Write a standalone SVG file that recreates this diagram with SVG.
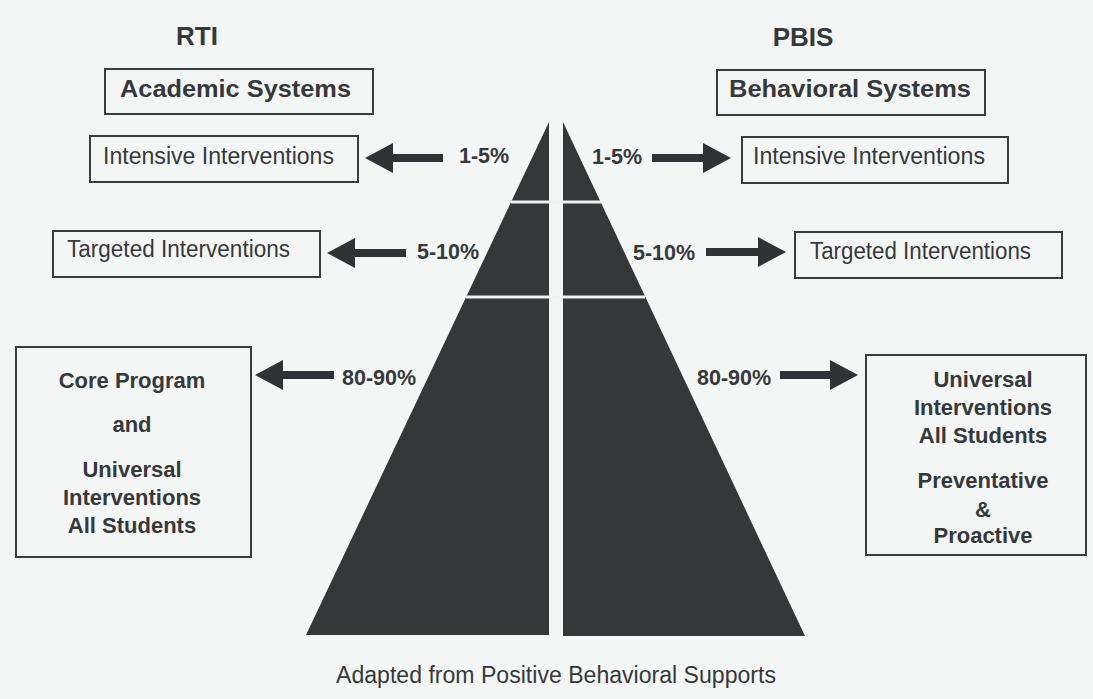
<svg xmlns="http://www.w3.org/2000/svg" width="1093" height="699" viewBox="0 0 1093 699">
  <style>
    text { font-family: "Liberation Sans", Arial, sans-serif; fill: #36393b; }
    .title { font-size: 26px; font-weight: bold; }
    .sys { font-size: 24px; font-weight: bold; }
    .reg { font-size: 23px; }
    .pct { font-size: 21.5px; font-weight: bold; }
    .big { font-size: 22px; font-weight: bold; text-anchor: middle; }
    .box { fill: none; stroke: #3a3d3f; stroke-width: 2; }
    .arrow { stroke: #2f3335; stroke-width: 8; fill: none; marker-end: url(#head); }
    .pyr { fill: #353738; }
    .sep { stroke: #eef2f0; stroke-width: 3; }
  </style>
  <defs>
    <marker id="head" markerUnits="userSpaceOnUse" markerWidth="28" markerHeight="30" viewBox="0 0 28 30" refX="6" refY="15" orient="auto">
      <path d="M0,0 L28,15 L0,30 Z" fill="#2f3335"/>
    </marker>
  </defs>
  <rect width="1093" height="699" fill="#f4f6f5"/>

  <g id="pyramid">
    <polygon class="pyr" points="549,122 549,635 306,635"/>
    <polygon class="pyr" points="563,122 563,636 805,636"/>
    <line class="sep" x1="511" y1="202" x2="601" y2="202"/>
    <line class="sep" x1="466" y1="297" x2="645" y2="297"/>
  </g>

  <g id="rti-title"><text class="title" x="197" y="45" text-anchor="middle">RTI</text></g>
  <g id="pbis-title"><text class="title" x="803" y="46" text-anchor="middle">PBIS</text></g>

  <g id="academic">
    <rect class="box" x="105" y="69" width="268" height="45"/>
    <text class="sys" x="120" y="97" textLength="231" lengthAdjust="spacingAndGlyphs">Academic Systems</text>
  </g>
  <g id="behavioral">
    <rect class="box" x="717" y="70" width="268" height="45"/>
    <text class="sys" x="729" y="97" textLength="242" lengthAdjust="spacingAndGlyphs">Behavioral Systems</text>
  </g>

  <g id="intensive-left">
    <rect class="box" x="90" y="136" width="268" height="46"/>
    <text class="reg" x="103" y="164" textLength="231" lengthAdjust="spacingAndGlyphs">Intensive Interventions</text>
  </g>
  <g id="intensive-right">
    <rect class="box" x="742" y="137" width="266" height="46"/>
    <text class="reg" x="753" y="164" textLength="232" lengthAdjust="spacingAndGlyphs">Intensive Interventions</text>
  </g>

  <g id="targeted-left">
    <rect class="box" x="53" y="231" width="267" height="46"/>
    <text class="reg" x="67" y="257" textLength="223" lengthAdjust="spacingAndGlyphs">Targeted Interventions</text>
  </g>
  <g id="targeted-right">
    <rect class="box" x="795" y="232" width="267" height="46"/>
    <text class="reg" x="810" y="259" textLength="221" lengthAdjust="spacingAndGlyphs">Targeted Interventions</text>
  </g>

  <g id="core-left">
    <rect class="box" x="16" y="347" width="235" height="210"/>
    <text class="big" x="132" y="388">Core Program</text>
    <text class="big" x="132" y="432">and</text>
    <text class="big" x="132" y="477">Universal</text>
    <text class="big" x="132" y="505">Interventions</text>
    <text class="big" x="132" y="533">All Students</text>
  </g>
  <g id="universal-right">
    <rect class="box" x="866" y="355" width="220" height="200"/>
    <text class="big" x="983" y="387">Universal</text>
    <text class="big" x="983" y="415">Interventions</text>
    <text class="big" x="983" y="443">All Students</text>
    <text class="big" x="983" y="488">Preventative</text>
    <text class="big" x="983" y="517">&amp;</text>
    <text class="big" x="983" y="543">Proactive</text>
  </g>

  <g id="labels">
    <text class="pct" x="459" y="163">1-5%</text>
    <text class="pct" x="592" y="164">1-5%</text>
    <text class="pct" x="417" y="259">5-10%</text>
    <text class="pct" x="633" y="260">5-10%</text>
    <text class="pct" x="342" y="385">80-90%</text>
    <text class="pct" x="697" y="385">80-90%</text>
  </g>

  <g id="connectors">
    <line class="arrow" x1="443" y1="158" x2="387" y2="158"/>
    <line class="arrow" x1="652" y1="158" x2="709" y2="158"/>
    <line class="arrow" x1="406" y1="253" x2="349" y2="253"/>
    <line class="arrow" x1="706" y1="252" x2="764" y2="252"/>
    <line class="arrow" x1="334" y1="375" x2="277" y2="375"/>
    <line class="arrow" x1="780" y1="375" x2="836" y2="375"/>
  </g>

  <g id="caption">
    <text class="reg" x="336" y="683" textLength="440" lengthAdjust="spacingAndGlyphs">Adapted from Positive Behavioral Supports</text>
  </g>
</svg>
